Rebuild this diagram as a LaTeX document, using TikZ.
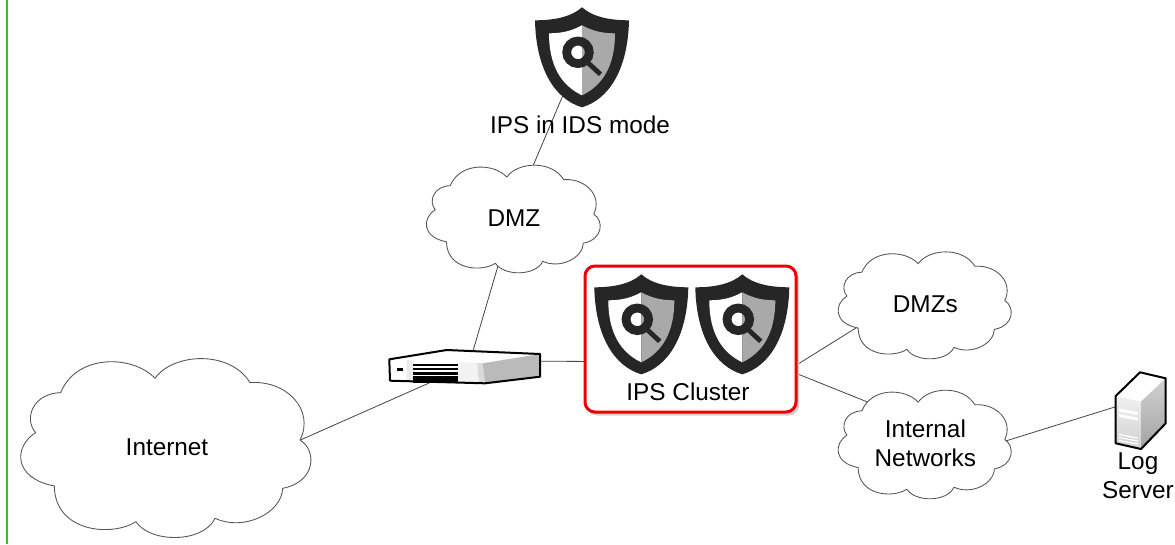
\documentclass[tikz,border=0pt]{standalone}
\usepackage{fontspec}
\setmainfont{Liberation Sans}
\usetikzlibrary{shapes.geometric}
\pgfdeclarelayer{bgl}
\pgfdeclarelayer{conn}
\pgfsetlayers{bgl,conn,main}
\definecolor{shielddark}{HTML}{262626}
\definecolor{shieldgray}{HTML}{A9A9A9}
\definecolor{wirec}{HTML}{444444}
\definecolor{cloudc}{HTML}{555555}
\definecolor{greenbar}{HTML}{3DB82A}
\definecolor{redbox}{HTML}{F00000}
\tikzset{
  wire/.style={draw=wirec,line width=0.6pt},
  cloudline/.style={draw=cloudc,fill=white,line width=0.65pt,line join=round},
  cloudlabel/.style={ellipse,inner sep=0pt,outer sep=0pt,align=center},
  label text/.style={inner sep=0pt,outer sep=0pt,align=center},
  devline/.style={draw=black,line width=1.5pt,line join=round},
}
\newcommand{\mycloud}[6]{%
  \begin{scope}[shift={(#2,#3)},xscale={#4/868},yscale={#5/540},shift={(-67,-55)}]
    \path[cloudline] (182,158)
      .. controls (230,40) and (400,45) .. (465,115)
      .. controls (520,38) and (690,30) .. (750,128)
      .. controls (860,120) and (945,210) .. (900,300)
      .. controls (950,330) and (950,425) .. (848,445)
      .. controls (845,520) and (730,575) .. (645,535)
      .. controls (610,610) and (450,610) .. (408,545)
      .. controls (340,590) and (165,580) .. (163,438)
      .. controls (40,415) and (40,320) .. (107,278)
      .. controls (70,235) and (100,160) .. (182,158) -- cycle;
  \end{scope}
  \node[cloudlabel,minimum width={0.5625pt*#4},minimum height={0.5625pt*#5}] (#1) at ({#2+#4/2},{#3+#5/2-1}) {#6};
}
\newcommand{\myshield}[3]{%
  \begin{scope}[shift={(#2,#3)}]
    \fill[shielddark] (47,0) .. controls (58,10) and (76,13) .. (94,13)
      .. controls (93,62) and (74,92) .. (47,100)
      .. controls (20,92) and (1,62) .. (0,13)
      .. controls (18,13) and (36,10) .. (47,0) -- cycle;
    \fill[white] (47,18) .. controls (36,24) and (26,26) .. (14,26)
      .. controls (14,58) and (26,78) .. (47,88) -- cycle;
    \fill[shieldgray] (47,18) .. controls (58,24) and (68,26) .. (80,26)
      .. controls (80,58) and (68,78) .. (47,88) -- cycle;
    \draw[shielddark,line width=6.6pt] (43,45) circle (11.3);
    \draw[shielddark,line width=3.6pt] (53,55.5) -- (65.5,67);
  \end{scope}
  \node[ellipse,inner sep=0pt,outer sep=0pt,minimum width=33pt,minimum height=33.75pt] (#1) at ({#2+47},{#3+50}) {};
}
\begin{document}
\begin{tikzpicture}[x=0.75pt,y=-0.75pt,every node/.append style={font=\fontsize{18.25pt}{21.75pt}\selectfont}]
\useasboundingbox (0,0) rectangle (1175,544);
\begin{pgfonlayer}{bgl}
  \fill[white] (0,0) rectangle (1175,544);
  \draw[greenbar,line width=1.5pt] (6.5,0) -- (6.5,544);
\end{pgfonlayer}

% clouds
\mycloud{internet}{22.3}{358.3}{289.4}{180}{Internet}
\mycloud{dmz}{427.3}{165}{173.4}{108.3}{\raisebox{0.75pt}{DMZ}}
\mycloud{dmzs}{839}{251.7}{172.7}{107.6}{DMZs}
\mycloud{internal}{839}{390}{172.7}{109.3}{Internal\\Networks}

% top shield
\myshield{idsshield}{535}{7.3}
\node[label text] (idslabel) at (580,125) {IPS in IDS mode};

% cluster box
\fill[black!18,rounded corners=7.5pt] (587.5,269) rectangle (799,415.5);
\node[draw=redbox,fill=white,line width=2.25pt,rounded corners=7.5pt,minimum width=158.25pt,minimum height=109.5pt,inner sep=0pt,outer sep=0pt] (cluster) at (690.5,339) {};
\myshield{shieldleft}{594.3}{274.3}
\myshield{shieldright}{695.3}{274.3}
\node[label text] (clusterlabel) at (688,392) {IPS Cluster};

% router
\node[inner sep=0pt,outer sep=0pt,minimum width=113.25pt,minimum height=24.75pt] (router) at (464.5,366.5) {};
\fill[white] (389.3,359.3) -- (446.7,350) -- (540,354) -- (482.7,363.3) -- cycle;
\fill[white] (389.3,359.3) -- (482.7,363.3) -- (485,383.3) -- (390,380.7) -- cycle;
\fill[black!8] (406.7,360) -- (413.3,360.3) -- (413.3,381.3) -- (406.7,381.2) -- cycle;
\fill[black!5] (458.3,362.3) -- (477,363) -- (479,383.1) -- (458.3,382.6) -- cycle;
\fill[black!14] (477,363) -- (482.7,363.3) -- (485,383.3) -- (479,383.1) -- cycle;
\fill[black!27] (482.7,363.3) -- (540,354) -- (540,376.7) -- (485,383.3) -- cycle;
\fill[black] (396.7,367.7) rectangle (403.3,371.3);
\fill[black] (413.3,363.5) rectangle (458.3,365.8);
\fill[black] (413.3,367.7) rectangle (458.3,370);
\fill[black] (413.3,372) rectangle (458.3,374.5);
\fill[black] (413.3,376) rectangle (458.3,382.6);
\draw[devline] (389.3,359.3) -- (446.7,350) -- (540,354) -- (540,376.7) -- (485,383.3) -- (390,380.7) -- cycle;

% log server
\node[inner sep=0pt,outer sep=0pt,minimum width=37.5pt,minimum height=57.5pt] (server) at (1140.7,410.7) {};
\fill[white] (1115.7,396) -- (1140,372.3) -- (1165.7,378.3) -- (1141,401.7) -- cycle;
\shade[top color=black!6,bottom color=black!18] (1115.7,396) -- (1141,401.7) -- (1141,449) -- (1115.7,443.3) -- cycle;
\shade[top color=black!18,bottom color=black!36] (1141,401.7) -- (1165.7,378.3) -- (1165.7,423.3) -- (1141,449) -- cycle;
\fill[white] (1119,408.5) -- (1137.7,412) -- (1137.7,415) -- (1119,411.5) -- cycle;
\fill[white] (1119,414) -- (1137.7,417.5) -- (1137.7,420.5) -- (1119,417) -- cycle;
\foreach \yy in {434.5,437.5,440.5}{
  \draw[white,line width=0.9pt] (1119,\yy) -- (1137.7,\yy+3.5);
}
\draw[devline] (1115.7,396) -- (1140,372.3) -- (1165.7,378.3) -- (1165.7,423.3) -- (1141,449) -- (1115.7,443.3) -- cycle;
\node[label text] (loglabel) at (1138,475.5) {Log\\Server};

% connectors
\begin{pgfonlayer}{conn}
  \draw[wire] (internet.358.6) -- (router.205);
  \draw[wire] (router.62) -- (dmz.251.9);
  \draw[wire] (dmz.71.3) -- (idsshield.240);
  \draw[wire] (router.4.2) -- (cluster.192.56);
  \draw[wire] (cluster.346.7) -- (dmzs.196.5);
  \draw[wire] (cluster.342.4) -- (internal.139.2);
  \draw[wire] (internal.0.6) -- (server.171.6);
\end{pgfonlayer}
\end{tikzpicture}
\end{document}
